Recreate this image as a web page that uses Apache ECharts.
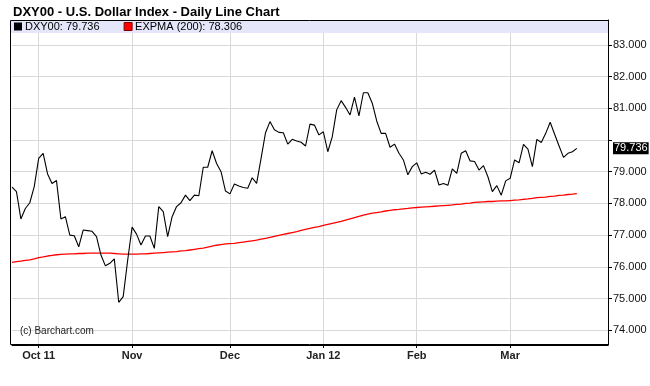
<!DOCTYPE html>
<html>
<head>
<meta charset="utf-8">
<script src="https://cdn.jsdelivr.net/npm/echarts@6/dist/echarts.min.js"></script>
<style>html,body{margin:0;padding:0;background:#fff}#c{width:650px;height:386px}</style>
</head>
<body>
<div id="c"></div>
<script>
// Trading-day calendar (weekdays, minus exchange holidays)
const startDate = '2011-09-23';
const endDate = '2012-04-02';
const holidays = ['2011-12-26', '2012-01-02'];

// Month tick labels
const labelDates = ['2011-10-03', '2011-11-01', '2011-12-01', '2012-01-03', '2012-02-01', '2012-03-01'];
const labelTexts = ['Oct 11', 'Nov', 'Dec', 'Jan 12', 'Feb', 'Mar'];

// Y tick range
const yMin = 73.533, yMax = 83.785;

// DXY00 daily closes (from 2011-09-23)
const priceValues = [
  78.51, 78.37, 77.51, 77.84, 78.02, 78.53, 79.42, 79.58, 78.93, 78.63,
  78.72, 77.51, 77.58, 77.00, 76.98, 76.63, 77.16, 77.14, 77.12, 76.95,
  76.37, 76.03, 76.11, 76.25, 74.88, 75.06, 76.20, 77.25, 77.03, 76.69,
  76.97, 76.97, 76.58, 77.90, 77.74, 76.95, 77.58, 77.90, 78.02, 78.26,
  78.09, 78.26, 78.24, 79.14, 79.14, 79.66, 79.26, 79.00, 78.39, 78.30,
  78.61, 78.55, 78.50, 78.48, 78.81, 78.63, 79.42, 80.23, 80.58, 80.32,
  80.24, 80.23, 79.87, 80.02, 79.97, 79.93, 79.81, 80.50, 80.47, 80.16,
  80.26, 79.63, 80.10, 80.95, 81.24, 81.03, 80.79, 81.35, 80.76, 81.49,
  81.49, 81.16, 80.60, 80.21, 80.21, 79.77, 79.87, 79.58, 79.37, 78.90,
  79.16, 79.28, 78.93, 78.98, 78.92, 79.05, 78.58, 78.63, 78.57, 79.09,
  78.95, 79.58, 79.66, 79.34, 79.32, 79.05, 79.19, 78.84, 78.37, 78.56,
  78.26, 78.71, 78.79, 79.37, 79.28, 79.86, 79.71, 79.16, 80.02, 79.92,
  80.21, 80.56, 80.18, 79.81, 79.45, 79.58, 79.63, 79.736
];

// EXPMA(200)
const emaValues = [
  76.14, 76.16, 76.18, 76.20, 76.22, 76.25, 76.29, 76.31, 76.34, 76.36,
  76.38, 76.39, 76.40, 76.41, 76.41, 76.42, 76.42, 76.43, 76.43, 76.43,
  76.43, 76.43, 76.43, 76.42, 76.41, 76.40, 76.40, 76.40, 76.40, 76.41,
  76.41, 76.42, 76.43, 76.44, 76.45, 76.46, 76.47, 76.48, 76.50, 76.51,
  76.53, 76.55, 76.57, 76.59, 76.62, 76.65, 76.68, 76.70, 76.72, 76.73,
  76.74, 76.76, 76.78, 76.80, 76.82, 76.84, 76.87, 76.90, 76.93, 76.96,
  76.99, 77.02, 77.05, 77.08, 77.11, 77.15, 77.18, 77.21, 77.24, 77.27,
  77.31, 77.34, 77.37, 77.40, 77.43, 77.47, 77.51, 77.55, 77.59, 77.63,
  77.66, 77.69, 77.71, 77.73, 77.76, 77.78, 77.80, 77.81, 77.83, 77.84,
  77.86, 77.87, 77.88, 77.89, 77.90, 77.91, 77.92, 77.93, 77.94, 77.95,
  77.97, 77.98, 78.00, 78.01, 78.03, 78.04, 78.05, 78.06, 78.06, 78.07,
  78.08, 78.08, 78.09, 78.10, 78.11, 78.13, 78.14, 78.16, 78.18, 78.19,
  78.20, 78.22, 78.23, 78.25, 78.26, 78.28, 78.29, 78.306
];

// build categories
const categories = [];
(function () {
  const d = new Date(startDate + 'T00:00:00Z');
  const end = new Date(endDate + 'T00:00:00Z');
  while (d <= end) {
    const dow = d.getUTCDay();
    const s = d.toISOString().slice(0, 10);
    if (dow !== 0 && dow !== 6 && holidays.indexOf(s) < 0) categories.push(s);
    d.setUTCDate(d.getUTCDate() + 1);
  }
})();

const lastPrice = priceValues[priceValues.length - 1];
const lastEma = emaValues[emaValues.length - 1];
const priceName = 'DXY00: ' + lastPrice.toFixed(3);
const emaName = 'EXPMA (200): ' + lastEma.toFixed(3);
const isMonth = (i, v) => labelDates.indexOf(v) >= 0;
const FONT = 'Liberation Sans, Arial, Helvetica, sans-serif';

const chart = echarts.init(document.getElementById('c'), null, { renderer: 'canvas' });
chart.setOption({
  animation: false,
  backgroundColor: '#fff',
  title: {
    text: 'DXY00 - U.S. Dollar Index - Daily Line Chart',
    left: 8, top: 1,
    textStyle: { fontFamily: FONT, fontSize: 13, fontWeight: 'bold', color: '#000' }
  },
  legend: {
    left: 14, top: 21, z: 6,
    icon: 'rect', itemWidth: 8, itemHeight: 8, itemGap: 24,
    padding: 0,
    textStyle: { fontFamily: FONT, fontSize: 11, color: '#000', padding: [0, 0, 0, -2] },
    data: [
      { name: priceName, itemStyle: { color: '#000' } },
      { name: emaName, itemStyle: { color: '#ff0000', borderColor: '#800000', borderWidth: 1 } }
    ]
  },
  grid: { left: 12, right: 42, top: 20, bottom: 41, containLabel: false },
  xAxis: {
    type: 'category',
    data: categories,
    boundaryGap: false,
    axisLine: { show: true, lineStyle: { color: '#000', width: 1 } },
    axisTick: { show: true, interval: isMonth, length: 3, lineStyle: { color: '#000' } },
    axisLabel: {
      interval: isMonth,
      formatter: (v) => labelTexts[labelDates.indexOf(v)] || '',
      margin: 5, fontFamily: FONT, fontSize: 11, fontWeight: 'bold', color: '#222'
    },
    splitLine: { show: true, interval: isMonth, lineStyle: { color: '#d8d8d8', width: 1 } }
  },
  yAxis: {
    type: 'value',
    position: 'right',
    min: yMin, max: yMax,
    splitNumber: 10, minInterval: 1, maxInterval: 1,
    axisLine: { show: true, lineStyle: { color: '#000', width: 1 } },
    axisTick: { show: true, length: 4, inside: false, lineStyle: { color: '#000' } },
    axisLabel: {
      showMinLabel: false, showMaxLabel: false,
      margin: 5, fontFamily: FONT, fontSize: 11, color: '#111',
      formatter: (v) => Math.abs(v - lastPrice) < 0.4 ? '' : v.toFixed(3)
    },
    splitLine: { show: true, lineStyle: { color: '#d8d8d8', width: 1 } }
  },
  series: [
    {
      name: priceName, type: 'line', data: priceValues,
      showSymbol: false, symbol: 'none', z: 4,
      lineStyle: { color: '#000', width: 1.1 }, itemStyle: { color: '#000' },
      markLine: {
        silent: true, symbol: 'none',
        lineStyle: { color: 'rgba(0,0,0,0)', width: 0, type: 'solid' },
        data: [{ yAxis: lastPrice }],
        label: {
          show: true,
          position: 'end', distance: 5,
          formatter: lastPrice.toFixed(3),
          backgroundColor: '#000', color: '#fff', opacity: 1,
          fontFamily: FONT, fontSize: 11, padding: [1, 1, 0, 1]
        }
      }
    },
    {
      name: emaName, type: 'line', data: emaValues,
      showSymbol: false, symbol: 'none', z: 3,
      lineStyle: { color: '#ff0000', width: 1.3 }, itemStyle: { color: '#ff0000' }
    }
  ],
  graphic: [
    { type: 'rect', z: 3, silent: true, shape: { x: 11, y: 21, width: 597, height: 12 }, style: { fill: '#e6e6fa' } },
    { type: 'rect', z: 10, silent: true, shape: { x: 10.5, y: 20.5, width: 598, height: 324 }, style: { fill: 'none', stroke: '#000', lineWidth: 1 } },
    { type: 'text', z: 10, silent: true, x: 20, y: 326, style: { text: '(c) Barchart.com', font: '10px ' + FONT, fill: '#222' } }
  ]
});
</script>
</body>
</html>
